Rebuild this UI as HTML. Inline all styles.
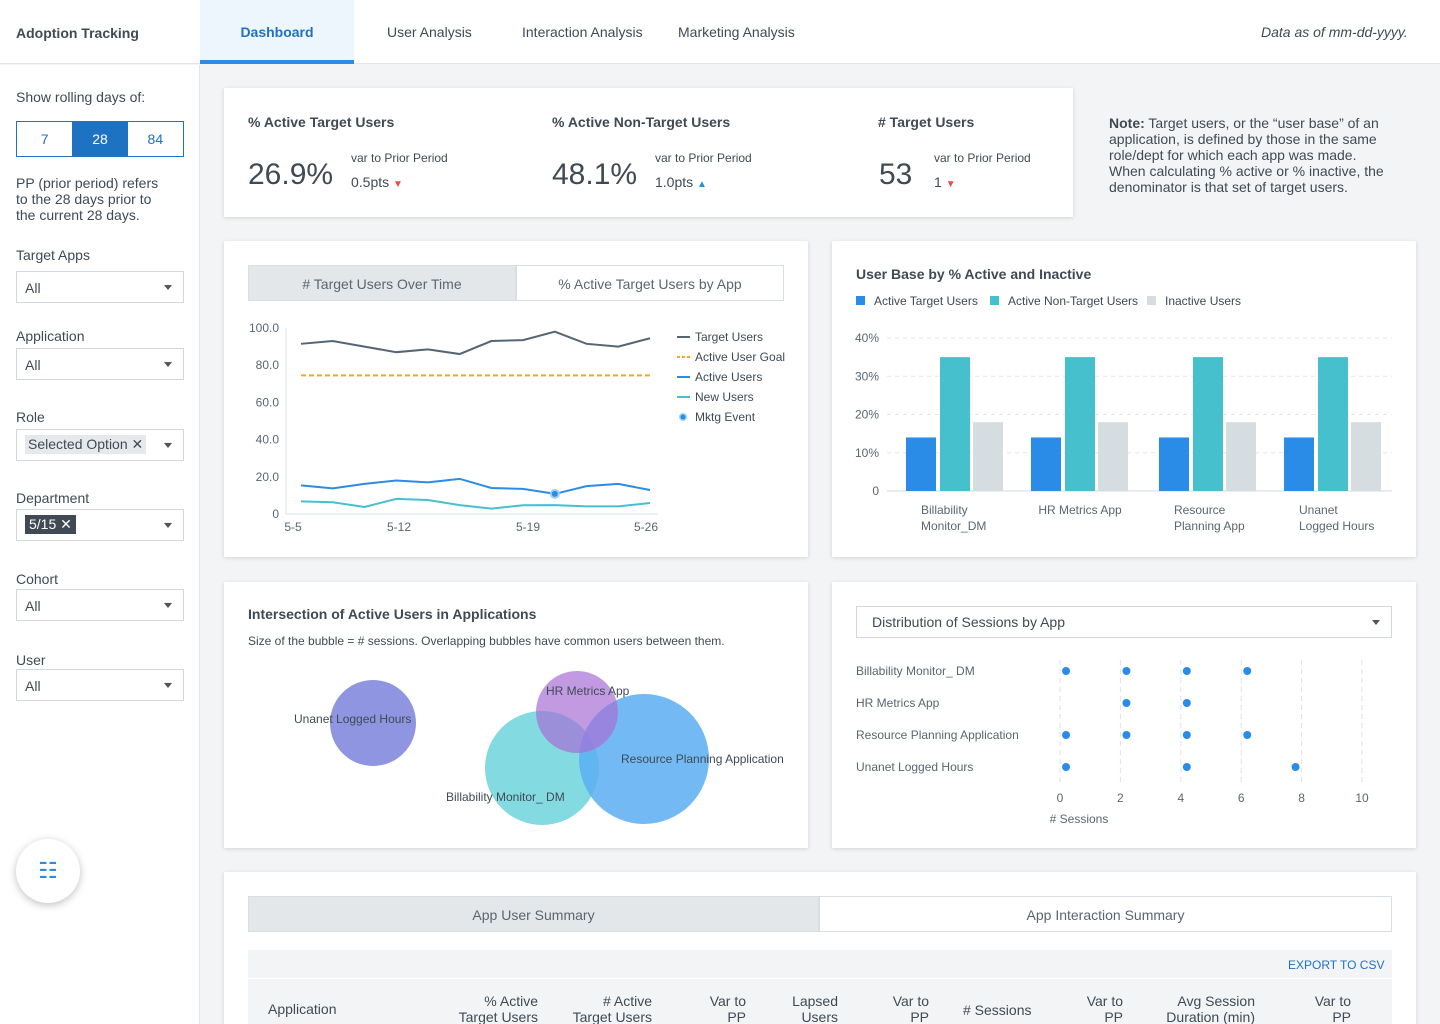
<!DOCTYPE html>
<html><head><meta charset="utf-8"><style>
*{box-sizing:border-box;margin:0;padding:0}
html,body{width:1440px;height:1024px;overflow:hidden}
body{background:#f3f4f6;font-family:"Liberation Sans",sans-serif;color:#3f4a54;position:relative}
.a{position:absolute}
.card{position:absolute;background:#fff;box-shadow:0 1px 4px rgba(0,0,0,.14)}
.lbl{font-size:14px;color:#3f4a54}
.sel{position:absolute;left:16px;width:168px;height:32px;border:1px solid #d3d8dd;background:#fff;font-size:14px;padding:8px 8px}
.sel:after{content:"";position:absolute;right:11px;top:13px;border-left:4px solid transparent;border-right:4px solid transparent;border-top:5px solid #555}
.tag{display:inline-block;padding:1px 6px;font-size:14px}
</style></head><body>
<div class="a" style="left:0;top:0;width:1440px;height:64px;background:#fff;border-bottom:1px solid #e1e4e8"></div>
<div class="a" style="left:16px;top:25px;font-size:14px;font-weight:bold">Adoption Tracking</div>
<div class="a" style="left:200px;top:0;width:154px;height:64px;background:#eef6fd;border-bottom:4px solid #2a8ce6;color:#1d72c2;font-weight:bold;font-size:14px;text-align:center;line-height:64px">Dashboard</div>
<div class="a" style="left:387px;top:24px;font-size:14px">User Analysis</div>
<div class="a" style="left:522px;top:24px;font-size:14px">Interaction Analysis</div>
<div class="a" style="left:678px;top:24px;font-size:14px">Marketing Analysis</div>
<div class="a" style="left:1261px;top:24px;font-size:14px;font-style:italic">Data as of mm-dd-yyyy.</div>

<div class="a" style="left:0;top:65px;width:200px;height:959px;background:#fff;border-right:1px solid #e1e4e8"></div>
<div class="a lbl" style="left:16px;top:89px">Show rolling days of:</div>
<div class="a" style="left:16px;top:121px;width:168px;height:36px;border:1px solid #1d72c2;display:flex;font-size:14px;color:#1d72c2">
<div style="flex:1;text-align:center;line-height:34px">7</div>
<div style="flex:1;text-align:center;line-height:34px;background:#1d72c2;color:#fff">28</div>
<div style="flex:1;text-align:center;line-height:34px">84</div></div>
<div class="a lbl" style="left:16px;top:175px;width:146px;line-height:16px">PP (prior period) refers to the 28 days prior to the current 28 days.</div>
<div class="a lbl" style="left:16px;top:247px">Target Apps</div>
<div class="sel" style="top:271px">All</div>
<div class="a lbl" style="left:16px;top:328px">Application</div>
<div class="sel" style="top:348px">All</div>
<div class="a lbl" style="left:16px;top:409px">Role</div>
<div class="sel" style="top:429px;padding:5px 8px"><span class="tag" style="background:#e6e9ec;padding:1px 3px">Selected Option ✕</span></div>
<div class="a lbl" style="left:16px;top:490px">Department</div>
<div class="sel" style="top:509px;padding:5px 8px"><span class="tag" style="background:#3f4a54;color:#fff;padding:1px 4px">5/15 ✕</span></div>
<div class="a lbl" style="left:16px;top:571px">Cohort</div>
<div class="sel" style="top:589px">All</div>
<div class="a lbl" style="left:16px;top:652px">User</div>
<div class="sel" style="top:669px">All</div>
<div class="a" style="left:16px;top:839px;width:64px;height:64px;border-radius:50%;background:#fff;box-shadow:0 2px 8px rgba(0,0,0,.25);text-align:center;line-height:64px;color:#2a8ce6;font-size:22px">☷</div>

<!-- KPI -->
<div class="card" style="left:224px;top:88px;width:849px;height:129px"></div>
<div class="a" style="left:248px;top:114px;font-size:14px;font-weight:bold">% Active Target Users</div>
<div class="a" style="left:248px;top:158px;font-size:30px">26.9%</div>
<div class="a" style="left:351px;top:151px;font-size:12px">var to Prior Period</div>
<div class="a" style="left:351px;top:174px;font-size:14px">0.5pts <span style="color:#e84d4d;font-size:10px">▼</span></div>
<div class="a" style="left:552px;top:114px;font-size:14px;font-weight:bold">% Active Non-Target Users</div>
<div class="a" style="left:552px;top:158px;font-size:30px">48.1%</div>
<div class="a" style="left:655px;top:151px;font-size:12px">var to Prior Period</div>
<div class="a" style="left:655px;top:174px;font-size:14px">1.0pts <span style="color:#2a8ce6;font-size:10px">▲</span></div>
<div class="a" style="left:878px;top:114px;font-size:14px;font-weight:bold"># Target Users</div>
<div class="a" style="left:879px;top:158px;font-size:30px">53</div>
<div class="a" style="left:934px;top:151px;font-size:12px">var to Prior Period</div>
<div class="a" style="left:934px;top:174px;font-size:14px">1 <span style="color:#e84d4d;font-size:10px">▼</span></div>
<div class="a" style="left:1109px;top:115px;width:276px;font-size:14px;line-height:16px"><b>Note:</b> Target users, or the “user base” of an application, is defined by those in the same role/dept for which each app was made. When calculating % active or % inactive, the denominator is that set of target users.</div>

<!-- line chart card -->
<div class="card" style="left:224px;top:241px;width:584px;height:316px"></div>
<div class="a" style="left:248px;top:265px;width:268px;height:36px;background:#e3e7ea;border:1px solid #d9dee2;text-align:center;line-height:36px;font-size:14px;color:#5a6670"># Target Users Over Time</div>
<div class="a" style="left:516px;top:265px;width:268px;height:36px;background:#fff;border:1px solid #d9dee2;text-align:center;line-height:36px;font-size:14px;color:#5a6670">% Active Target Users by App</div>
<svg class="a" id="line" style="left:224px;top:310px" width="584" height="240"></svg>

<!-- bar chart -->
<div class="card" style="left:832px;top:241px;width:584px;height:316px"></div>
<div class="a" style="left:856px;top:266px;font-size:14px;font-weight:bold">User Base by % Active and Inactive</div>
<svg class="a" id="bar" style="left:832px;top:285px" width="584" height="260"></svg>

<!-- bubble -->
<div class="card" style="left:224px;top:582px;width:584px;height:266px"></div>
<div class="a" style="left:248px;top:606px;font-size:14px;font-weight:bold">Intersection of Active Users in Applications</div>
<div class="a" style="left:248px;top:634px;font-size:12px">Size of the bubble = # sessions. Overlapping bubbles have common users between them.</div>
<svg class="a" style="left:224px;top:660px" width="584" height="180">
<circle cx="149" cy="63" r="43" fill="#7b82db" opacity=".85"/>
<circle cx="318" cy="108" r="57" fill="#6fd3dc" opacity=".85"/>
<circle cx="420" cy="99" r="65" fill="#5aaef2" opacity=".85"/>
<circle cx="353" cy="52" r="41" fill="#a66fd6" opacity=".7"/>
<g font-size="12" fill="#3f4a54" font-family="Liberation Sans">
<text x="70" y="63">Unanet Logged Hours</text><text x="322" y="35">HR Metrics App</text>
<text x="397" y="103">Resource Planning Application</text><text x="222" y="141">Billability Monitor_ DM</text></g></svg>

<!-- dot plot -->
<div class="card" style="left:832px;top:582px;width:584px;height:266px"></div>
<div class="sel" style="left:856px;top:606px;width:536px;height:32px;padding:7px 15px">Distribution of Sessions by App</div>
<svg class="a" id="dot" style="left:832px;top:650px" width="584" height="190"></svg>

<!-- table -->
<div class="card" style="left:224px;top:872px;width:1192px;height:160px"></div>
<div class="a" style="left:248px;top:896px;width:571px;height:36px;background:#e3e7ea;border:1px solid #d9dee2;text-align:center;line-height:36px;font-size:14px;color:#5a6670">App User Summary</div>
<div class="a" style="left:819px;top:896px;width:573px;height:36px;border:1px solid #d9dee2;text-align:center;line-height:36px;font-size:14px;color:#5a6670">App Interaction Summary</div>
<div class="a" style="left:248px;top:950px;width:1144px;height:28px;background:#f3f4f6"></div>
<div class="a" style="left:1288px;top:958px;font-size:12px;color:#1d72c2">EXPORT TO CSV</div>
<div class="a" style="left:248px;top:979px;width:1144px;height:50px;background:#f3f4f6"></div>
<div class="a" style="left:268px;top:1001px;font-size:14px">Application</div>
<div class="a" style="left:438px;top:993px;width:100px;text-align:right;font-size:14px;line-height:16px">% Active<br>Target Users</div>
<div class="a" style="left:552px;top:993px;width:100px;text-align:right;font-size:14px;line-height:16px"># Active<br>Target Users</div>
<div class="a" style="left:686px;top:993px;width:60px;text-align:right;font-size:14px;line-height:16px">Var to<br>PP</div>
<div class="a" style="left:778px;top:993px;width:60px;text-align:right;font-size:14px;line-height:16px">Lapsed<br>Users</div>
<div class="a" style="left:869px;top:993px;width:60px;text-align:right;font-size:14px;line-height:16px">Var to<br>PP</div>
<div class="a" style="left:963px;top:1002px;font-size:14px"># Sessions</div>
<div class="a" style="left:1063px;top:993px;width:60px;text-align:right;font-size:14px;line-height:16px">Var to<br>PP</div>
<div class="a" style="left:1155px;top:993px;width:100px;text-align:right;font-size:14px;line-height:16px">Avg Session<br>Duration (min)</div>
<div class="a" style="left:1291px;top:993px;width:60px;text-align:right;font-size:14px;line-height:16px">Var to<br>PP</div>

<script>
const NS="http://www.w3.org/2000/svg";
function mk(p,t,a,txt){const e=document.createElementNS(NS,t);for(const k in a)e.setAttribute(k,a[k]);if(txt!==undefined)e.textContent=txt;p.appendChild(e);return e;}

// ---- line chart data ----
const lineTicks=[0,20,40,60,80,100];
const lineTickLabels=["0","20.0","40.0","60.0","80.0","100.0"];
const dateLabels=["5-5","5-12","5-19","5-26"];
const targetUsers=[91.5,93,90,87,88.5,86,93,93.5,98,91.5,90,94.5];
const activeUsers=[15.4,13.8,16.2,18,17,18.9,14,13.5,10.8,15,16.2,12.9];
const newUsers=[6.8,6.3,3.8,8.1,7.5,4.8,2.9,4.7,4.8,4.1,4.1,5.9];
const activeGoal=74.5;
const mktgEventIndex=8;

(function(){
const s=document.getElementById('line');
const x0=62,x1=426,y0=204,y1=18;
const y=v=>y0-(v/100)*(y0-y1);
const n=targetUsers.length;
const x=i=>77+i*(349/(n-1));
mk(s,'line',{x1:x0,y1:y1,x2:x0,y2:y0,stroke:'#dde3e8'});
mk(s,'line',{x1:x0,y1:y0,x2:x1+8,y2:y0,stroke:'#dde3e8'});
lineTicks.forEach((t,i)=>{const e=mk(s,'text',{x:x0-7,y:y(t)+4,'text-anchor':'end','font-size':12,fill:'#5a6670'},lineTickLabels[i]);
});
const dx=[69,175,304,422];
dateLabels.forEach((d,i)=>{const e=mk(s,'text',{x:dx[i],y:221,'text-anchor':'middle','font-size':12,fill:'#5a6670'},d);
});
const g=mk(s,'line',{x1:x(0),x2:x(n-1),y1:y(activeGoal),y2:y(activeGoal),stroke:'#f5a623','stroke-width':2,'stroke-dasharray':'5,3'});

function path(arr,col,name){const p=mk(s,'path',{d:arr.map((v,i)=>(i?'L':'M')+x(i)+','+y(v)).join(''),fill:'none',stroke:col,'stroke-width':2});
}
path(targetUsers,'#566573','target-users-line');
path(activeUsers,'#2a8ce6','active-users-line');
path(newUsers,'#45c0cc','new-users-line');
mk(s,'circle',{cx:x(mktgEventIndex),cy:y(activeUsers[mktgEventIndex]),r:5,fill:'#9fd0f7'});
const m=mk(s,'circle',{cx:x(mktgEventIndex),cy:y(activeUsers[mktgEventIndex]),r:3,fill:'#2a8ce6'});

const leg=[['Target Users','#566573','s'],['Active User Goal','#f5a623','d'],['Active Users','#2a8ce6','s'],['New Users','#45c0cc','s'],['Mktg Event','#2a8ce6','c']];
leg.forEach((l,i)=>{const ly=27+i*20;
if(l[2]=='c'){mk(s,'circle',{cx:459,cy:ly,r:4,fill:'#9fd0f7'});mk(s,'circle',{cx:459,cy:ly,r:2.5,fill:l[1]});}
else mk(s,'line',{x1:453,x2:466,y1:ly,y2:ly,stroke:l[1],'stroke-width':2,'stroke-dasharray':l[2]=='d'?'3,2':'none'});
const t=mk(s,'text',{x:471,y:ly+4,'font-size':12,fill:'#3f4a54'},l[0]);
});
})();

// ---- bar chart data ----
const barApps=[["Billability","Monitor_DM"],["HR Metrics App"],["Resource","Planning App"],["Unanet","Logged Hours"]];
const activeTarget=[14,14,14,14];
const activeNonTarget=[35,35,35,35];
const inactive=[18,18,18,18];
const barTicks=[0,10,20,30,40];
(function(){
const s=document.getElementById('bar');
const y0=206,y1=53;const y=v=>y0-(v/40)*(y0-y1);
const legs=[['Active Target Users','#2a8ce6',24],['Active Non-Target Users','#45c0cc',158],['Inactive Users','#d5dde1',315]];
legs.forEach(l=>{mk(s,'rect',{x:l[2],y:11,width:9,height:9,fill:l[1]});
const t=mk(s,'text',{x:l[2]+18,y:20,'font-size':12,fill:'#3f4a54'},l[0]);});
barTicks.forEach(t=>{mk(s,'line',{x1:55,x2:560,y1:y(t),y2:y(t),stroke:t?'#e3e7ea':'#d5dbe0','stroke-dasharray':t?'4,4':'none'});
const e=mk(s,'text',{x:47,y:y(t)+4,'text-anchor':'end','font-size':12,fill:'#5a6670'},t?t+'%':'0');});
const cx=[123,248,376,501];
barApps.forEach((a,i)=>{
[[activeTarget,'#2a8ce6',-49],[activeNonTarget,'#45c0cc',-15],[inactive,'#d5dde1',18]].forEach(b=>{
const r=mk(s,'rect',{x:cx[i]+b[2],y:y(b[0][i]),width:30,height:y0-y(b[0][i]),fill:b[1]});
});
const lx=a.length==1?cx[i]:cx[i]-34;
a.forEach((ln,j)=>{const t=mk(s,'text',{x:lx,y:229+j*16,'text-anchor':a.length==1?'middle':'start','font-size':12,fill:'#5a6670'},ln);
});
});
})();

// ---- dot plot data ----
const dotApps=["Billability Monitor_ DM","HR Metrics App","Resource Planning Application","Unanet Logged Hours"];
const dotSessions=[[0.2,2.2,4.2,6.2],[2.2,4.2],[0.2,2.2,4.2,6.2],[0.2,4.2,7.8]];
const dotTicks=[0,2,4,6,8,10];
(function(){
const s=document.getElementById('dot');
const x=v=>228+v*30.2;
dotTicks.forEach(t=>{mk(s,'line',{x1:x(t),x2:x(t),y1:10,y2:135,stroke:'#dde3e8','stroke-dasharray':'5,4'});
const e=mk(s,'text',{x:x(t),y:152,'text-anchor':'middle','font-size':12,fill:'#5a6670'},t);});
const at=mk(s,'text',{x:247,y:173,'text-anchor':'middle','font-size':12,fill:'#5a6670'},'# Sessions');
dotApps.forEach((a,i)=>{const yy=21+i*32;
const t=mk(s,'text',{x:24,y:yy+4,'font-size':12,fill:'#5a6670'},a);
dotSessions[i].forEach(v=>{const c=mk(s,'circle',{cx:x(v),cy:yy,r:4,fill:'#2a8ce6'});});});
})();
</script>
</body></html>
